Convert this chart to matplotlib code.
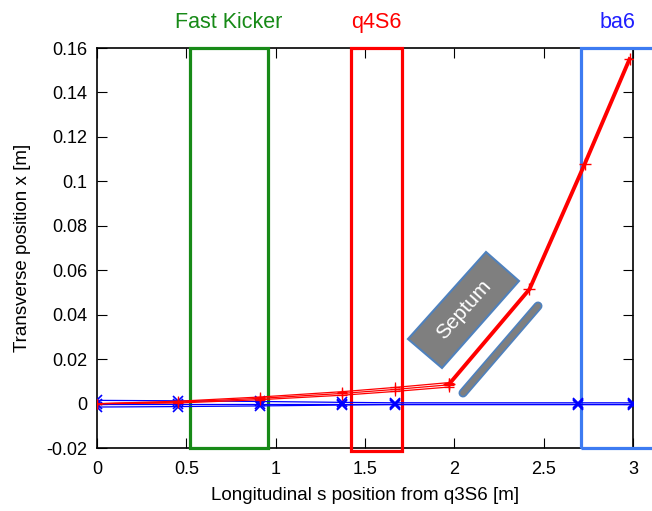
import numpy as np
import matplotlib
matplotlib.use("Agg")
import matplotlib.pyplot as plt
from matplotlib.patches import Rectangle, Polygon
from matplotlib.lines import Line2D

plt.rcParams['font.family'] = ['Liberation Sans', 'DejaVu Sans']

# marker positions along s
s_pts = [0.0, 0.45, 0.91, 1.37, 1.665, 1.97, 2.42, 2.73, 2.98]

# kicked beam (red): close trajectories before the septum, one after
red_a = [0.0, 0.0003, 0.0018, 0.0038, 0.0055, 0.0075]
red_b = [0.0, 0.0007, 0.0024, 0.0046, 0.0064, 0.0085]
red_c = [0.0, 0.0011, 0.0030, 0.0054, 0.0073, 0.0095]
red_thick_s = [1.97, 2.42, 2.73, 2.98]
red_thick_x = [0.0088, 0.0515, 0.108, 0.155]

# circulating beam (blue)
blue_s = [0.0, 0.45, 0.91, 1.37, 1.665, 2.69, 3.0]
blue_hi = [0.0015, 0.0013, 0.0010, 0.0006, 0.0004, 0.0004, 0.0004]
blue_mid = [0.0, 0.0, 0.0, 0.0, 0.0, 0.0, 0.0]
blue_lo = [-0.0015, -0.0013, -0.0010, -0.0006, -0.0004, -0.0004, -0.0004]

# elements: (name, s_start, s_end, colour, label colour)
elements = [
    ("Fast Kicker", 0.52, 0.957, "#178a17", "#178a17"),
    ("q4S6", 1.42, 1.707, "#ff0000", "#ff0000"),
    ("ba6", 2.71, 3.2, "#3d7bf2", "#1f1fff"),
]

fig = plt.figure(figsize=(6.52, 5.11), dpi=100)
ax = fig.add_axes([0.149, 0.123, 0.822, 0.783])

for name, s0, s1, col, lcol in elements:
    ybot = -0.0215 if name == "q4S6" else -0.02
    ax.add_patch(Rectangle((s0, ybot), s1 - s0, 0.16 - ybot, fill=False,
                           edgecolor=col, linewidth=2.3, clip_on=False, zorder=3))
    cx = (s0 + 3.11) / 2 if name == "ba6" else (s0 + s1) / 2
    ax.text(cx, 0.1668, name, color=lcol, fontsize=15.5, ha="center", va="bottom")

for yy in (blue_hi, blue_mid, blue_lo):
    ax.plot(blue_s, yy, color="#0000ff", linewidth=0.9, marker="x",
            markersize=7, markeredgewidth=1.2, zorder=4)

for yy in (red_a, red_b, red_c):
    ax.plot(s_pts[:6], yy, color="#ff0000", linewidth=0.9, marker="+",
            markersize=7, markeredgewidth=0.9, zorder=5)
ax.plot(red_thick_s, red_thick_x, color="#ff0000", linewidth=2.8, marker="+",
        markersize=9, markeredgewidth=1.0, zorder=5)

ax.set_xlim(0, 3)
ax.set_ylim(-0.02, 0.16)
ax.set_xticks([0, 0.5, 1, 1.5, 2, 2.5, 3])
ax.set_xticklabels(["0", "0.5", "1", "1.5", "2", "2.5", "3"])
ax.set_yticks(np.arange(-0.02, 0.161, 0.02))
ax.set_yticklabels(["-0.02", "0", "0.02", "0.04", "0.06", "0.08", "0.1",
                    "0.12", "0.14", "0.16"])
ax.tick_params(direction="in", length=7, top=True, right=True, labelsize=13)
ax.tick_params(axis="x", pad=9)
ax.tick_params(axis="y", pad=7)
ax.set_xlabel("Longitudinal s position from q3S6 [m]", fontsize=13.5, labelpad=7)
ax.set_ylabel("Transverse position x [m]", fontsize=13.5, labelpad=11)
for sp in ax.spines.values():
    sp.set_linewidth(1.2)

# septum drawing (figure pixel coordinates)
W, H = 652, 511
def fp(x, y):
    return (x / W, 1 - y / H)

sept = [fp(486, 252), fp(519, 281), fp(442, 368), fp(408, 339)]
fig.add_artist(Polygon(sept, closed=True, transform=fig.transFigure,
                       facecolor="#7f7f7f", edgecolor="#4f81bd", linewidth=1.5,
                       zorder=6))
tx, ty = fp(464, 310)
fig.text(tx, ty, "Septum", color="white", fontsize=15, rotation=48.5,
         ha="center", va="center", zorder=7)
(x0, y0), (x1, y1) = fp(463, 393), fp(538, 306)
fig.add_artist(Line2D([x0, x1], [y0, y1], transform=fig.transFigure,
                      color="#4f81bd", linewidth=6.5, solid_capstyle="round",
                      zorder=6))
fig.add_artist(Line2D([x0, x1], [y0, y1], transform=fig.transFigure,
                      color="#7f7f7f", linewidth=4, solid_capstyle="round",
                      zorder=6))

fig.savefig("out.png", dpi=100)
